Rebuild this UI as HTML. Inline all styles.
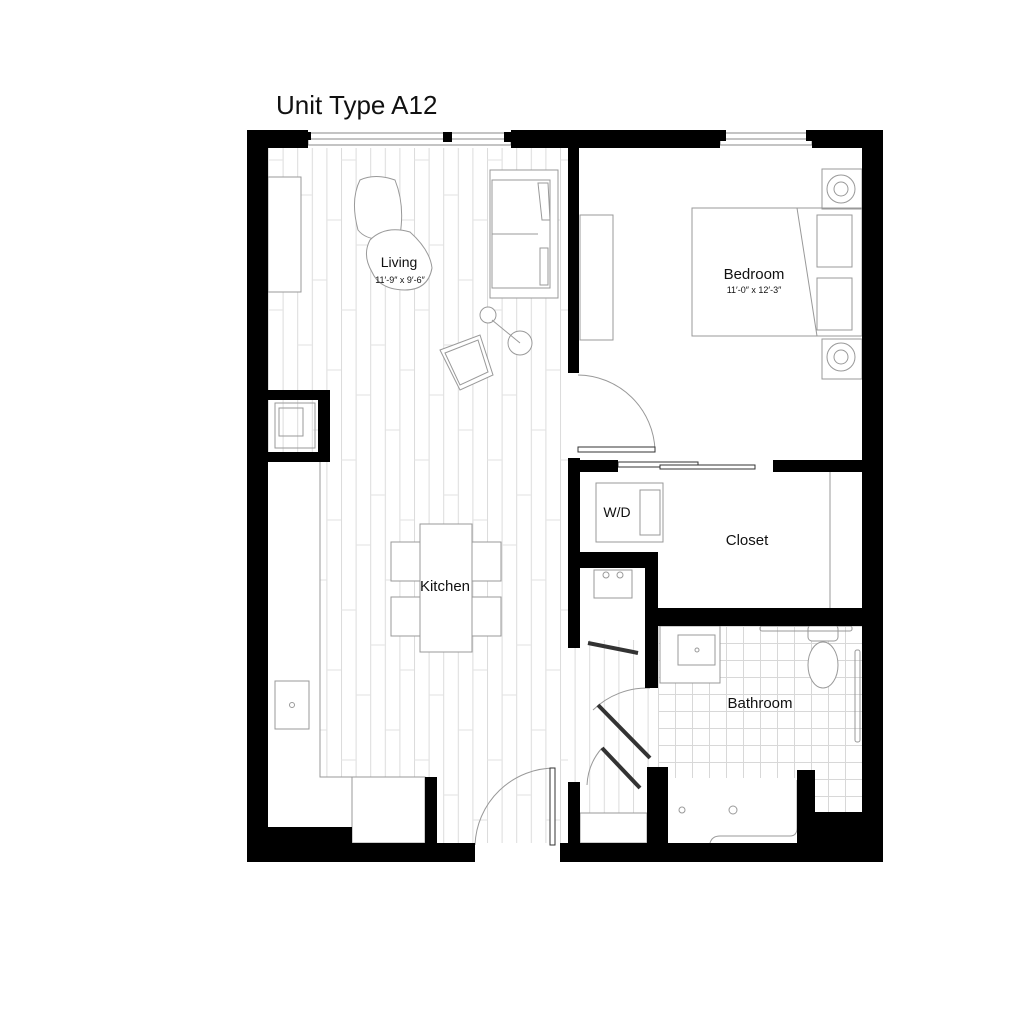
<!DOCTYPE html>
<html><head><meta charset="utf-8"><style>
html,body{margin:0;padding:0;background:#fff;width:1024px;height:1024px;overflow:hidden}
svg{display:block}
text{font-family:"Liberation Sans",sans-serif;fill:#111}
</style></head><body>
<svg width="1024" height="1024" viewBox="0 0 1024 1024" xmlns="http://www.w3.org/2000/svg">
<defs>
<pattern id="planks" x="268" y="0" width="14.6" height="140" patternUnits="userSpaceOnUse">
<line x1="0.5" y1="0" x2="0.5" y2="140" stroke="#dcdcdc" stroke-width="1"/>
</pattern>
<pattern id="joints" x="268" y="150" width="73" height="150" patternUnits="userSpaceOnUse">
<g stroke="#e2e2e2" stroke-width="1">
<line x1="0" y1="10" x2="14.6" y2="10"/>
<line x1="14.6" y1="95" x2="29.2" y2="95"/>
<line x1="29.2" y1="45" x2="43.8" y2="45"/>
<line x1="43.8" y1="130" x2="58.4" y2="130"/>
<line x1="58.4" y1="70" x2="73" y2="70"/>
</g>
</pattern>
<pattern id="tile" x="658" y="626" width="17" height="17" patternUnits="userSpaceOnUse">
<path d="M0 0.5H17M0.5 0V17" stroke="#d8d8d8" stroke-width="1" fill="none"/>
</pattern>
</defs>

<text x="276" y="114" font-size="26">Unit Type A12</text>

<!-- floors -->
<rect x="268" y="148" width="300" height="695" fill="url(#planks)"/>
<rect x="268" y="148" width="300" height="695" fill="url(#joints)"/>
<rect x="568" y="640" width="82" height="203" fill="url(#planks)"/>
<rect x="268" y="462" width="52" height="315" fill="#fff"/>
<rect x="268" y="777" width="157" height="66" fill="#fff"/>
<rect x="658" y="626" width="204" height="186" fill="url(#tile)"/>

<g fill="none" stroke="#999" stroke-width="1">
<path d="M320 462V777H425"/>
<rect x="352" y="777" width="73" height="66" fill="#fff"/>
<rect x="275" y="681" width="34" height="48"/>
<circle cx="292" cy="705" r="2.5"/>
<rect x="268" y="177" width="33" height="115" fill="#fff"/>
<rect x="275" y="403" width="40" height="45"/>
<rect x="279" y="408" width="24" height="28"/>
<path d="M360 180Q375 173 395 180Q405 205 400 235Q370 245 358 230Q350 200 360 180Z" fill="#fff"/>
<path d="M370 240Q385 225 410 232Q430 250 432 268Q428 290 405 290Q380 290 372 272Q362 255 370 240Z" fill="#fff"/>
<rect x="490" y="170" width="68" height="128" fill="#fff"/>
<rect x="492" y="180" width="58" height="108"/>
<line x1="492" y1="234" x2="538" y2="234"/>
<path d="M538 183L548 183L550 220L542 220Z M540 248L548 248L548 285L540 285Z"/>
<circle cx="488" cy="315" r="8" fill="#fff"/>
<circle cx="520" cy="343" r="12" fill="#fff"/>
<line x1="492" y1="320" x2="520" y2="343"/>
<path d="M440 350L480 335L493 375L460 390Z" fill="#fff"/>
<path d="M445 353L478 340L488 372L460 385Z"/>
<rect x="420" y="524" width="52" height="128" fill="#fff"/>
<rect x="391" y="542" width="29" height="39" fill="#fff"/>
<rect x="391" y="597" width="29" height="39" fill="#fff"/>
<rect x="472" y="542" width="29" height="39" fill="#fff"/>
<rect x="472" y="597" width="29" height="39" fill="#fff"/>
<path d="M475 845A80 80 0 0 1 555 768"/>
<rect x="550" y="768" width="5" height="77" fill="#fff" stroke="#333"/>
<path d="M578 375A78 78 0 0 1 655 450"/>
<rect x="578" y="447" width="77" height="5" fill="#fff" stroke="#333"/>
<rect x="580" y="215" width="33" height="125"/>
<rect x="692" y="208" width="170" height="128"/>
<line x1="797" y1="208" x2="817" y2="336"/>
<rect x="817" y="215" width="35" height="52"/>
<rect x="817" y="278" width="35" height="52"/>
<rect x="822" y="169" width="40" height="40"/>
<circle cx="841" cy="189" r="14"/><circle cx="841" cy="189" r="7"/>
<rect x="822" y="339" width="40" height="40"/>
<circle cx="841" cy="357" r="14"/><circle cx="841" cy="357" r="7"/>
<rect x="596" y="483" width="67" height="59"/>
<rect x="640" y="490" width="20" height="45"/>
<line x1="830" y1="472" x2="830" y2="608"/>
<rect x="618" y="462" width="80" height="5" fill="#fff" stroke="#333"/>
<rect x="660" y="465" width="95" height="4" fill="#fff" stroke="#333"/>
<rect x="594" y="570" width="38" height="28"/>
<circle cx="606" cy="575" r="3"/><circle cx="620" cy="575" r="3"/>
<path d="M588 643L638 653" stroke="#333" stroke-width="4"/>
<rect x="660" y="626" width="60" height="57" fill="#fff"/>
<rect x="678" y="635" width="37" height="30"/>
<circle cx="697" cy="650" r="2"/>
<ellipse cx="823" cy="665" rx="15" ry="23" fill="#fff"/>
<rect x="808" y="625" width="30" height="16" rx="4" fill="#fff"/>
<rect x="760" y="626" width="92" height="5" rx="2"/>
<rect x="855" y="650" width="5" height="92" rx="2"/>
<path d="M593 710A78 78 0 0 1 650 688"/>
<path d="M598 705L650 758" stroke="#333" stroke-width="4"/>
<path d="M587 785A60 60 0 0 1 602 748"/>
<path d="M602 748L640 788" stroke="#333" stroke-width="4"/>
<rect x="580" y="813" width="67" height="30" fill="#fff"/>
<rect x="668" y="778" width="129" height="65" fill="#fff" stroke="none"/>
<circle cx="733" cy="810" r="4"/>
<circle cx="682" cy="810" r="3"/>
<path d="M710 843Q712 836 720 836H790Q797 836 797 828V780"/>
</g>

<g fill="#fff" stroke="#888" stroke-width="1">
<rect x="308" y="133" width="203" height="12"/>
<line x1="308" y1="139" x2="511" y2="139"/>
<rect x="720" y="133" width="92" height="12"/>
<line x1="720" y1="139" x2="812" y2="139"/>
</g>
<rect x="305" y="132" width="6" height="8" fill="#000"/>
<rect x="443" y="132" width="9" height="10" fill="#000"/>
<rect x="504" y="132" width="9" height="10" fill="#000"/>
<rect x="720" y="130" width="6" height="11" fill="#000"/>
<rect x="806" y="130" width="6" height="11" fill="#000"/>

<g fill="#000">
<rect x="247" y="130" width="61" height="18"/>
<rect x="511" y="130" width="209" height="18"/>
<rect x="812" y="130" width="71" height="18"/>
<rect x="247" y="130" width="21" height="732"/>
<rect x="862" y="130" width="21" height="732"/>
<rect x="247" y="827" width="105" height="35"/>
<rect x="247" y="843" width="228" height="19"/>
<rect x="425" y="777" width="12" height="66"/>
<rect x="560" y="843" width="323" height="19"/>
<path d="M247 390H330V462H247Z M268 400V452H318V400Z" fill-rule="evenodd"/>
<rect x="568" y="148" width="11" height="225"/>
<rect x="568" y="458" width="12" height="190"/>
<rect x="568" y="460" width="50" height="12"/>
<rect x="773" y="460" width="89" height="12"/>
<rect x="568" y="552" width="90" height="16"/>
<rect x="645" y="552" width="13" height="136"/>
<rect x="655" y="608" width="207" height="18"/>
<rect x="568" y="782" width="12" height="80"/>
<rect x="647" y="767" width="21" height="95"/>
<rect x="797" y="770" width="18" height="92"/>
<rect x="815" y="812" width="47" height="50"/>
</g>

<text x="399" y="267" font-size="14" text-anchor="middle">Living</text>
<text x="400" y="283" font-size="9" text-anchor="middle">11′-9″ x 9′-6″</text>
<text x="754" y="279" font-size="15" text-anchor="middle">Bedroom</text>
<text x="754" y="293" font-size="9" text-anchor="middle">11′-0″ x 12′-3″</text>
<text x="617" y="517" font-size="14" text-anchor="middle">W/D</text>
<text x="747" y="545" font-size="15" text-anchor="middle">Closet</text>
<text x="445" y="591" font-size="15" text-anchor="middle">Kitchen</text>
<text x="760" y="708" font-size="15" text-anchor="middle">Bathroom</text>
</svg>
</body></html>
